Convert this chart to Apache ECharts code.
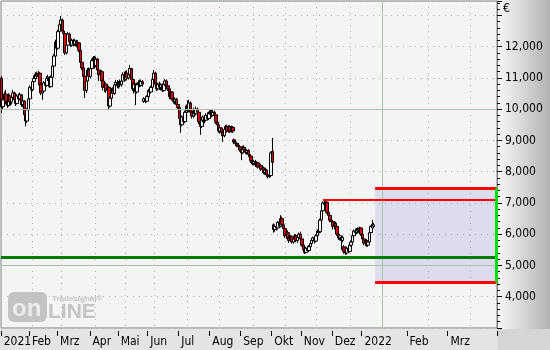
<!DOCTYPE html>
<html><head><meta charset="utf-8">
<script src="https://cdn.jsdelivr.net/npm/echarts@6/dist/echarts.min.js"></script>
<style>html,body{margin:0;padding:0;background:#fff}#c{width:550px;height:350px}</style>
</head><body><div id="c"></div>
<script>
// ---- axis / category data ----
const monthLabels = ['2021','Feb','Mrz','Apr','Mai','Jun','Jul','Aug','Sep','Okt','Nov','Dez','2022','Feb','Mrz'];
const monthStarts = [0,20,40,63,83,104,126,148,170,192,213,235,256,288,317];
const slotCount = 352;
const gridSlots = [22,43,67,88,109,132,155,179,202,224,248,303,333];
const todaySlot = 270;

// ---- price data (EUR) ----
const open = [
10990,10080,10300,10480,10250,10120,10420,10230,10380,10520,
10300,10180,10420,10330,10460,10140,10260,9820,9620,9980,
10330,10700,10620,10880,10980,11120,11050,11150,10780,10520,
10580,10840,10760,10980,11020,10720,11020,11380,11700,12150,
11950,12480,12700,12850,12500,12420,11800,12050,12400,12150,
12050,12200,12080,12180,12020,12120,11880,11500,11320,11050,
10600,10900,11250,11050,11300,11550,11650,11400,11600,11250,
11100,11200,10900,10700,10800,10600,10700,10100,10350,10600,
10500,10780,10850,10750,10820,10780,10900,11100,10950,11150,
11000,11100,11300,10950,10650,10800,10550,10780,10850,10760,
10880,10250,10330,10250,10400,10600,10550,10700,10950,11150,
10800,10650,10800,10700,10780,10600,10800,10900,10750,10650,
10400,10550,10320,10250,10320,10150,10050,9700,9500,9750,
9600,9900,10100,9950,10200,9900,9780,9950,9850,10000,
9900,9600,9450,9650,9750,9650,9800,9700,9850,9950,
9800,9900,9820,9580,9500,9300,9400,9250,9150,9350,
9450,9300,9450,9280,9420,9020,8950,8900,8850,8800,
8700,8600,8780,8700,8620,8680,8550,8500,8350,8250,
8320,8220,8280,8150,8200,8080,8120,7980,8050,7900,
7850,7880,8650,6300,6150,6250,6200,6380,6250,6500,
6300,6180,5950,6050,5880,5800,5920,5750,5850,5950,
5800,5900,6000,5850,5650,5500,5420,5550,5480,5600,
5700,5800,5880,5780,5950,6100,6080,6450,6750,7000,
6950,7020,6700,6600,6450,6400,6250,6350,6250,6000,
5880,5900,5800,5600,5450,5400,5550,5450,5650,5750,
5950,6100,6050,6150,6100,6200,6000,5850,5720,5800,
5650,5750,6050,6200,6250];
const close = [
10080,10300,10480,10250,10120,10420,10230,10380,10520,10300,
10180,10420,10330,10460,10140,10260,9820,9620,9980,10330,
10700,10620,10880,10980,11120,11050,11150,10780,10520,10580,
10840,10760,10980,11020,10720,11020,11380,11700,12150,11950,
12480,12700,12850,12500,12420,11800,12050,12400,12150,12050,
12200,12080,12180,12020,12120,11880,11500,11320,11050,10600,
10900,11250,11050,11300,11550,11650,11400,11600,11250,11100,
11200,10900,10700,10800,10600,10700,10100,10350,10600,10500,
10780,10850,10750,10820,10780,10900,11100,10950,11150,11000,
11100,11300,10950,10650,10800,10550,10780,10850,10760,10880,
10800,10330,10250,10400,10600,10550,10700,10950,11150,10800,
10650,10800,10700,10780,10600,10800,10900,10750,10650,10400,
10550,10320,10250,10320,10150,10050,9700,9500,9750,9600,
9900,10100,9950,10200,9900,9780,9950,9850,10000,9900,
9600,9450,9650,9750,9650,9800,9700,9850,9950,9800,
9900,9820,9580,9500,9300,9400,9250,9150,9350,9450,
9300,9450,9280,9420,9300,8950,8900,8850,8800,8700,
8600,8780,8700,8620,8680,8550,8500,8350,8250,8320,
8220,8280,8150,8200,8080,8120,7980,8050,7900,7850,
7880,8600,8300,6150,6250,6200,6380,6250,6500,6300,
6180,5950,6050,5880,5800,5920,5750,5850,5950,5800,
5900,6000,5850,5650,5500,5420,5550,5480,5600,5700,
5800,5880,5780,5950,6100,6050,6450,6750,7000,6950,
7020,6700,6600,6450,6400,6250,6350,6250,6000,5880,
5950,5800,5900,5450,5400,5550,5450,5650,5750,5950,
6100,6050,6150,6100,6200,6000,5850,5720,5800,5650,
5750,6050,6250,6320,6300];
const low = [
9880,10000,10220,10150,10040,10080,10100,10150,10310,10220,
10100,10150,10260,10280,10080,10060,9700,9450,9560,9920,
10280,10550,10580,10820,10920,10980,11000,10700,10450,10300,
10540,10680,10720,10900,10680,10700,10990,11340,11650,11800,
11900,12420,12600,12420,12350,11730,11750,11980,12080,11990,
12000,12010,12020,11980,11990,11820,11460,11250,10980,10360,
10520,10860,10950,10980,11250,11400,11300,11350,11150,10900,
10950,10850,10600,10550,10520,10500,9970,10050,10300,10420,
10460,10700,10680,10650,10700,10720,10850,10880,10900,10920,
10950,11050,10880,10580,10500,10130,10500,10700,10700,10720,
10720,10200,10190,10220,10350,10450,10500,10650,10900,10720,
10580,10600,10620,10600,10550,10560,10740,10680,10580,10320,
10350,10280,10180,10150,10080,9980,9620,9240,9450,9520,
9550,9850,9880,9900,9800,9700,9720,9760,9800,9820,
9520,9180,9400,9580,9550,9600,9640,9650,9800,9740,
9760,9750,9520,9420,9250,9220,9150,8950,9100,9300,
9250,9250,9240,9250,9240,8880,8820,8780,8740,8640,
8370,8560,8620,8560,8550,8480,8440,8280,8200,8200,
8150,8140,8100,8080,8020,7980,7920,7900,7850,7780,
7800,7820,8250,6050,6080,6120,6150,6200,6220,6250,
6120,5880,5850,5820,5720,5750,5700,5700,5800,5740,
5720,5850,5800,5600,5420,5370,5380,5420,5430,5550,
5650,5720,5700,5740,5900,5980,6050,6400,6700,6900,
6900,6650,6550,6380,6330,6150,6150,6180,5950,5820,
5800,5500,5740,5380,5340,5350,5400,5420,5600,5700,
5900,5980,6000,6020,6050,5950,5780,5650,5620,5600,
5600,5700,6000,6150,6200];
const high = [
11060,10380,10560,10620,10330,10510,10470,10450,10620,10560,
10360,10480,10500,10530,10490,10320,10290,9960,10030,10380,
10760,10850,10940,11080,11180,11200,11220,11180,10850,10650,
10900,10950,11060,11100,11050,11080,11420,11760,12220,12300,
12540,12780,12980,12900,12620,12450,12120,12470,12450,12220,
12260,12250,12240,12220,12200,12150,11920,11560,11360,11100,
10960,11320,11330,11360,11620,11700,11700,11680,11640,11300,
11260,11250,10960,10880,10860,10750,10750,10420,10680,10700,
10850,10930,10930,10900,10950,10980,11180,11200,11220,11250,
11180,11410,11320,11000,10850,10830,10850,10920,10940,10950,
10930,10380,10400,10450,10650,10700,10750,11000,11250,11200,
10850,10850,10880,10830,10820,10880,10960,10950,10820,10680,
10600,10580,10400,10380,10360,10200,10100,9780,9800,9850,
9950,10150,10280,10300,10250,10000,10050,10000,10080,10050,
9950,9680,9700,9800,9800,9870,9900,9920,10000,10000,
9960,9950,9850,9620,9560,9450,9430,9300,9400,9500,
9500,9480,9480,9470,9460,9060,9000,8960,8920,8850,
8760,8830,8840,8760,8720,8720,8600,8540,8420,8380,
8380,8320,8320,8260,8250,8180,8160,8100,8080,7960,
7950,8650,9080,6350,6300,6350,6420,6450,6610,6560,
6380,6230,6100,6120,5960,5980,5960,5900,6000,6000,
5960,6050,6080,5900,5700,5560,5600,5620,5650,5760,
5850,5920,5920,6000,6150,6180,6500,6800,7050,7090,
7080,7050,6780,6650,6520,6450,6420,6400,6300,6050,
6000,5950,5950,5650,5520,5600,5600,5700,5800,6000,
6150,6180,6200,6220,6240,6220,6050,5900,5850,5850,
5800,6100,6280,6450,6360];

// ---- analysis levels ----
const resistanceLevel = 7100;   // thin red line from the November high
const resistanceStart = 228;
const targetUpper = 7470;
const targetLower = 4460;
const targetStart = 265;
const supportLevel = 5250;
const solidGridLevels = [10000, 5000];

const categories = Array.from({length: slotCount}, (_, i) => String(i));
const labelAt = {};
monthStarts.forEach((s, k) => { labelAt[s] = monthLabels[k]; });
const ohlc = open.map((o, i) => [o, close[i], low[i], high[i]]);
const lastSlot = slotCount - 1;

const FONT = "'Liberation Sans Narrow','Arial Narrow','DejaVu Sans Condensed',sans-serif";
const chart = echarts.init(document.getElementById('c'), null, {renderer: 'canvas'});
const gridGreen = '#9fb99f';

chart.setOption({
  animation: false,
  backgroundColor: '#ffffff',
  grid: {left: 1, right: 53, top: 1, bottom: 22, show: true, backgroundColor: '#f4f4f4', borderColor: '#7f7f7f', borderWidth: 1},
  xAxis: {
    type: 'category', data: categories, boundaryGap: true, offset: 3,
    axisLine: {show: false},
    axisTick: {show: true, interval: (i) => (i in labelAt), length: 5, lineStyle: {color: '#000'}},
    axisLabel: {interval: (i) => (i in labelAt), formatter: (v, i) => labelAt[i] || '', align: 'left',
      color: '#000', fontFamily: FONT, fontSize: 12, margin: 5, padding: [0, 0, 0, 2]},
    splitLine: {show: true, interval: (i) => gridSlots.includes(i), lineStyle: {color: gridGreen, type: [1, 5], width: 1}}
  },
  yAxis: {
    type: 'value', position: 'right', min: 3000, max: 13460, interval: 1000,
    axisLine: {show: true, lineStyle: {color: '#7f7f7f'}},
    axisTick: {show: true, length: 5, lineStyle: {color: '#000'}},
    minorTick: {show: true, splitNumber: 5, length: 3, lineStyle: {color: '#000'}},
    axisLabel: {margin: 8, color: '#000', fontFamily: FONT, fontSize: 12,
      formatter: (v) => (v >= 4000 && v <= 12000) ? v.toLocaleString('en-US') : ''},
    splitLine: {show: true, lineStyle: {color: gridGreen, type: [1, 5], width: 1}}
  },
  graphic: [
    {type: 'rect', z: -10, silent: true, shape: {x: 498, y: 0, width: 52, height: 330},
      style: {fill: {type: 'linear', x: 0, y: 0, x2: 1, y2: 0, colorStops: [{offset: 0, color: '#f7f7f7'}, {offset: 1, color: '#b2b2b2'}]}}},
    {type: 'rect', z: -10, silent: true, shape: {x: 0, y: 329, width: 498, height: 21}, style: {fill: '#e4e4e4'}},
    {type: 'rect', z: -10, silent: true, shape: {x: 498, y: 329, width: 52, height: 21}, style: {fill: '#d5d5d5'}},
    {type: 'text', x: 503, y: 3, silent: true, style: {text: '€', font: "12px " + FONT, fill: '#000'}},
    {type: 'rect', z: 1, silent: true, shape: {x: 8, y: 292, width: 39, height: 30, r: 6}, style: {fill: '#c3c3c3'}},
    {type: 'text', z: 2, x: 12, y: 297, silent: true, style: {text: 'on', font: "bold 24px 'Liberation Sans',sans-serif", fill: '#ececec'}},
    {type: 'text', z: 2, x: 48, y: 302, silent: true, style: {text: 'LINE', font: "bold 21px 'Liberation Sans',sans-serif", fill: '#c3c3c3'}},
    {type: 'text', z: 2, x: 52, y: 295, silent: true, style: {text: 'Tradesignal®', font: "bold 8px 'Liberation Sans',sans-serif", fill: '#c4c4c4'}}
  ],
  series: [
    {
      type: 'line', data: [], z: 1, silent: true,
      markArea: {silent: true, itemStyle: {color: 'rgba(60,60,200,0.13)'},
        data: [[{coord: [targetStart, targetUpper]}, {coord: [lastSlot, targetLower]}]]}
    },
    {
      type: 'line', data: [], z: 2, silent: true,
      markLine: {silent: true, symbol: ['none', 'none'], label: {show: false},
        lineStyle: {color: '#a9c3a9', width: 1, type: 'solid'},
        data: solidGridLevels.map(v => ({yAxis: v})).concat([{xAxis: todaySlot}])}
    },
    {
      type: 'candlestick', data: ohlc, z: 3, barWidth: 3,
      itemStyle: {color: '#ffffff', color0: '#e00000', borderColor: '#000', borderColor0: '#000', borderWidth: 1}
    },
    {
      type: 'line', data: [], z: 4, silent: true,
      markLine: {silent: true, symbol: ['none', 'none'], label: {show: false},
        data: [
          {yAxis: supportLevel, lineStyle: {color: '#007a00', width: 3, type: 'solid'}},
          [{coord: [resistanceStart, resistanceLevel], lineStyle: {color: '#ff0000', width: 2, type: 'solid'}},
           {coord: [lastSlot, resistanceLevel], lineStyle: {color: '#ff0000', width: 2, type: 'solid'}}],
          [{coord: [targetStart, targetUpper], lineStyle: {color: '#ff0000', width: 3, type: 'solid'}},
           {coord: [lastSlot, targetUpper], lineStyle: {color: '#ff0000', width: 3, type: 'solid'}}],
          [{coord: [targetStart, targetLower], lineStyle: {color: '#ff0000', width: 3, type: 'solid'}},
           {coord: [lastSlot, targetLower], lineStyle: {color: '#ff0000', width: 3, type: 'solid'}}],
          [{coord: [lastSlot, targetUpper], lineStyle: {color: '#00e000', width: 3, type: 'solid'}},
           {coord: [lastSlot, targetLower], lineStyle: {color: '#00e000', width: 3, type: 'solid'}}]
        ]}
    }
  ]
});
</script>
</body></html>
